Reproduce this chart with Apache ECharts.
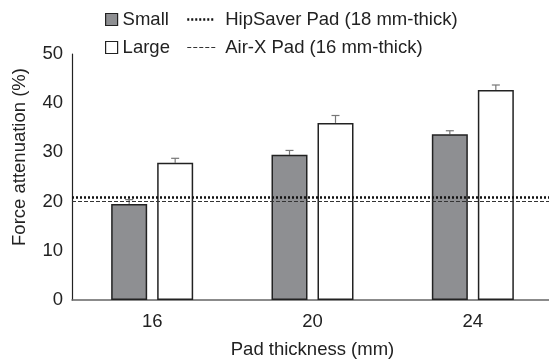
<!DOCTYPE html>
<html><head><meta charset="utf-8">
<script src="https://cdn.jsdelivr.net/npm/echarts@6/dist/echarts.min.js"></script>
<style>html,body{margin:0;padding:0;background:#fff}#c{width:549px;height:359px}</style>
</head><body><div id="c"></div>
<script>
var categories = ['16', '20', '24'];
var smallValues = [19.5, 29.5, 33.7];
var largeValues = [27.9, 36.0, 42.7];
var smallErrors = [0.9, 0.9, 0.7];
var largeErrors = [0.9, 1.5, 1.0];
var hipSaverValue = 20.9;
var airXValue = 20.0;
var yTicks = [0, 10, 20, 30, 40, 50];

var FONT = 'Liberation Sans, Arial, sans-serif';
var FS = 18.5;
var BAR_W = 36, GAP = 10;
var OFF = (BAR_W + GAP) / 2;
var HIP_STYLE = { color: '#111', width: 2.5, type: [2, 2] };
var AIR_STYLE = { color: '#333', width: 1, type: [4, 2] };

function errSeries(vals, errs, sign) {
  return {
    type: 'custom',
    silent: true,
    z: 1,
    data: vals.map(function (v, i) { return [i, v, v + errs[i]]; }),
    renderItem: function (params, api) {
      var lo = api.coord([api.value(0), api.value(1)]);
      var hi = api.coord([api.value(0), api.value(2)]);
      var x = lo[0] + sign * OFF;
      var st = { stroke: '#777', lineWidth: 1.2 };
      return { type: 'group', children: [
        { type: 'line', shape: { x1: x, y1: lo[1], x2: x, y2: hi[1] }, style: st },
        { type: 'line', shape: { x1: x - 4, y1: hi[1], x2: x + 4, y2: hi[1] }, style: st }
      ]};
    }
  };
}

var chart = echarts.init(document.getElementById('c'));
chart.setOption({
  animation: false,
  textStyle: { fontFamily: FONT, color: '#222' },
  grid: { left: 72, top: 54, width: 481, bottom: 59, containLabel: false, outerBoundsMode: 'none' },
  legend: [{
    data: ['Small', 'Large'],
    orient: 'vertical', left: 100, top: 5,
    itemWidth: 12, itemHeight: 12, itemGap: 9,
    icon: 'rect',
    itemStyle: { borderColor: '#222', borderWidth: 1.2 },
    textStyle: { fontFamily: FONT, fontSize: FS, color: '#222', padding: [0, 0, 0, 0] }
  }, {
    data: [
      { name: 'HipSaver Pad (18 mm-thick)', lineStyle: HIP_STYLE },
      { name: 'Air-X Pad (16 mm-thick)', lineStyle: AIR_STYLE }
    ],
    orient: 'vertical', left: 181, top: 5,
    itemWidth: 28, itemHeight: 12, itemGap: 9,
    itemStyle: { opacity: 0 },
    textStyle: { fontFamily: FONT, fontSize: FS, color: '#222', padding: [0, 0, 0, 5] }
  }],
  xAxis: {
    type: 'category', data: categories,
    name: 'Pad thickness (mm)', nameLocation: 'middle', nameGap: 40,
    nameTextStyle: { fontFamily: FONT, fontSize: FS, color: '#222' },
    axisLine: { lineStyle: { color: '#666', width: 1.5 } },
    axisTick: { show: false },
    axisLabel: { fontFamily: FONT, fontSize: FS, color: '#222', margin: 12 }
  },
  yAxis: {
    type: 'value', min: yTicks[0], max: yTicks[yTicks.length - 1], interval: 10,
    name: 'Force attenuation (%)', nameLocation: 'middle', nameGap: 43,
    nameTextStyle: { fontFamily: FONT, fontSize: FS, color: '#222', padding: [0, 0, 0, 40] },
    axisLine: { show: true, lineStyle: { color: '#222', width: 1.2 } },
    axisTick: { show: false },
    splitLine: { show: false },
    axisLabel: { fontFamily: FONT, fontSize: FS, color: '#222', margin: 9 }
  },
  series: [{
    name: 'Small', type: 'bar', data: smallValues, barWidth: BAR_W, barGap: (GAP / BAR_W * 100) + '%',
    itemStyle: { color: '#8e8f92', borderColor: '#222', borderWidth: 1.5 }, z: 3
  }, {
    name: 'Large', type: 'bar', data: largeValues, barWidth: BAR_W,
    itemStyle: { color: '#ffffff', borderColor: '#222', borderWidth: 1.5 }, z: 3
  },
  errSeries(smallValues, smallErrors, -1),
  errSeries(largeValues, largeErrors, 1),
  {
    name: 'HipSaver Pad (18 mm-thick)', type: 'line', data: [], symbol: 'none',
    itemStyle: { color: '#111' },
    lineStyle: HIP_STYLE,
    markLine: { silent: true, symbol: 'none', label: { show: false },
      lineStyle: HIP_STYLE,
      data: [{ yAxis: hipSaverValue }] },
    z: 4
  }, {
    name: 'Air-X Pad (16 mm-thick)', type: 'line', data: [], symbol: 'none',
    itemStyle: { color: '#333' },
    lineStyle: AIR_STYLE,
    markLine: { silent: true, symbol: 'none', label: { show: false },
      lineStyle: AIR_STYLE,
      data: [{ yAxis: airXValue }] },
    z: 4
  }]
});
</script></body></html>
